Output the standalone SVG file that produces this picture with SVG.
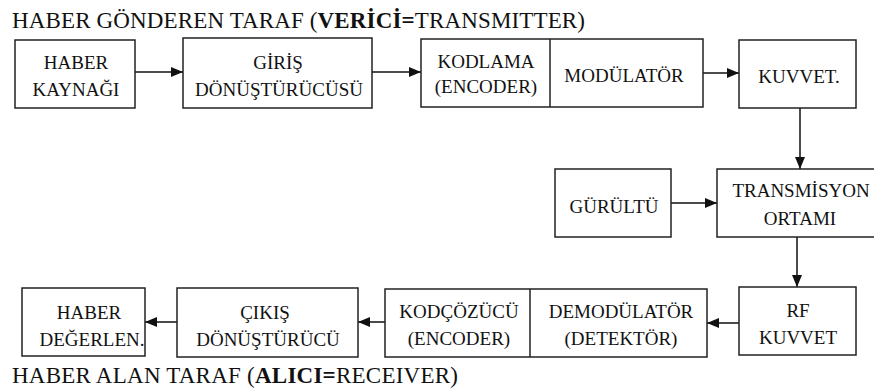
<svg xmlns="http://www.w3.org/2000/svg" width="874" height="389" viewBox="0 0 874 389">
<style>
.box{fill:#fff;stroke:#222;stroke-width:1.5}
.div{stroke:#222;stroke-width:1.5}
.t{font-family:"Liberation Serif","Times New Roman",serif;font-size:19px;fill:#111;text-anchor:middle}
.title{font-family:"Liberation Serif","Times New Roman",serif;font-size:23px;fill:#111}
.b{font-weight:bold}
.conn{stroke:#111;stroke-width:1.5;fill:none;marker-end:url(#ah)}
</style>
<defs>
<marker id="ah" markerUnits="userSpaceOnUse" markerWidth="12" markerHeight="10" refX="12" refY="5" orient="auto">
<path d="M0,0 L12,5 L0,10 Z" fill="#111"/>
</marker>
</defs>
<rect width="874" height="389" fill="#fff"/>
<text class="title" x="12" y="28" textLength="573" lengthAdjust="spacing">HABER GÖNDEREN TARAF (<tspan class="b">VERİCİ=</tspan>TRANSMITTER)</text>
<text class="title" x="12" y="383" textLength="446" lengthAdjust="spacing">HABER ALAN TARAF (<tspan class="b">ALICI=</tspan>RECEIVER)</text>
<g id="connectors">
<line class="conn" x1="135" y1="72" x2="183" y2="72"/>
<line class="conn" x1="372" y1="72" x2="421" y2="72"/>
<line class="conn" x1="703" y1="73" x2="739" y2="73"/>
<line class="conn" x1="800" y1="108" x2="800" y2="169"/>
<line class="conn" x1="671" y1="203" x2="717" y2="203"/>
<line class="conn" x1="797" y1="237" x2="797" y2="287"/>
<line class="conn" x1="739" y1="323" x2="707" y2="323"/>
<line class="conn" x1="385" y1="322" x2="358" y2="322"/>
<line class="conn" x1="177" y1="322" x2="145" y2="322"/>
</g>
<g id="haber-kaynagi">
<rect class="box" x="15" y="40" width="120" height="68"/>
<text class="t" x="76" y="69">HABER</text>
<text class="t" x="76" y="96">KAYNAĞI</text>
</g>
<g id="giris-donusturucusu">
<rect class="box" x="183" y="38" width="189" height="70"/>
<text class="t" x="278" y="69">GİRİŞ</text>
<text class="t" x="279" y="96">DÖNÜŞTÜRÜCÜSÜ</text>
</g>
<g id="kodlama-modulator">
<rect class="box" x="421" y="39" width="282" height="68"/>
<line class="div" x1="550" y1="39" x2="550" y2="107"/>
<text class="t" x="486" y="68">KODLAMA</text>
<text class="t" x="486" y="93">(ENCODER)</text>
<text class="t" x="624" y="82">MODÜLATÖR</text>
</g>
<g id="kuvvet">
<rect class="box" x="739" y="40" width="117" height="68"/>
<text class="t" x="799" y="83">KUVVET.</text>
</g>
<g id="gurultu">
<rect class="box" x="555" y="169" width="116" height="68"/>
<text class="t" x="614" y="213">GÜRÜLTÜ</text>
</g>
<g id="transmisyon-ortami">
<rect class="box" x="717" y="169" width="170" height="68"/>
<text class="t" x="801" y="197">TRANSMİSYON</text>
<text class="t" x="800" y="225">ORTAMI</text>
</g>
<g id="rf-kuvvet">
<rect class="box" x="739" y="287" width="117" height="68"/>
<text class="t" x="798" y="317">RF</text>
<text class="t" x="798" y="344">KUVVET</text>
</g>
<g id="kodcozucu-demodulator">
<rect class="box" x="385" y="289" width="322" height="68"/>
<line class="div" x1="530" y1="289" x2="530" y2="357"/>
<text class="t" x="459" y="318">KODÇÖZÜCÜ</text>
<text class="t" x="459" y="345">(ENCODER)</text>
<text class="t" x="621" y="318">DEMODÜLATÖR</text>
<text class="t" x="621" y="345">(DETEKTÖR)</text>
</g>
<g id="cikis-donusturucu">
<rect class="box" x="177" y="288" width="181" height="69"/>
<text class="t" x="265" y="319">ÇIKIŞ</text>
<text class="t" x="268" y="346">DÖNÜŞTÜRÜCÜ</text>
</g>
<g id="haber-degerlen">
<rect class="box" x="22" y="288" width="123" height="68"/>
<text class="t" x="89" y="319">HABER</text>
<text class="t" x="92" y="346">DEĞERLEN.</text>
</g>
</svg>
